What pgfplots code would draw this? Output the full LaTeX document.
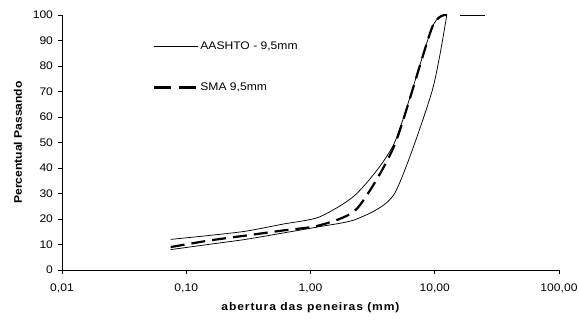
\documentclass[border=0pt]{standalone}
\usepackage{fontspec}
\setmainfont{Liberation Sans}[FakeStretch=1.1]
\usepackage{pgfplots}
\usepackage{pgfplotstable}
\pgfplotsset{compat=1.18}

% Grading limits (AASHTO, 9,5 mm) and the SMA 9,5 mm blend
\pgfplotstableread{
sieve  upper  lower  sma
0.075  12.0   8.0    9.0
0.15   13.5   10.0   11.5
0.3    15.2   12.0   13.5
0.6    18.0   14.5   15.5
1.18   20.8   17.0   17.5
2.36   30.0   20.0   24.0
4.75   50.0   30.0   49.0
9.5    95.0   70.0   95.0
12.5   100.0  100.0  100.0
}\grading

\begin{document}
\begin{tikzpicture}
\begin{axis}[
  scale only axis,
  width=497pt, height=255pt,
  xmode=log, xmin=0.01, xmax=100,
  ymin=0, ymax=100,
  axis x line*=bottom, axis y line*=left,
  axis line style={line width=0.9pt, black},
  xtick={0.01,0.1,1,10,100},
  xticklabels={{0,01},{0,10},{1,00},{10,00},{100,00}},
  xminorticks=false,
  ytick={0,10,...,100},
  tick align=outside,
  major tick length=4.5pt,
  tick style={line width=0.8pt, black},
  font=\fontsize{11}{13}\selectfont,
  /pgf/number format/assume math mode=true,
  xticklabel style={yshift=-6pt},
  yticklabel style={xshift=-1pt},
  xlabel={\addfontfeature{LetterSpace=8}abertura das peneiras (mm)},
  ylabel={Percentual Passando},
  xlabel style={font=\bfseries\fontsize{11}{13}\selectfont, at={(axis description cs:0.5,-0.149)}, anchor=center},
  ylabel style={font=\bfseries\fontsize{11}{13}\selectfont, at={(axis description cs:-0.0885,0.5)}, anchor=center},
  legend style={draw=none, fill=none, inner sep=0pt, at={(axis description cs:0.1825,0.904)}, anchor=north west, row sep=28pt, cells={anchor=west}, font=\fontsize{11}{13}\selectfont},
  legend cell align=left,
  legend image code/.code={\draw[#1] (0pt,0pt) -- (44pt,0pt);},
]
\addplot[black, line width=0.75pt, smooth, tension=0.4] table[x=sieve, y=upper] {\grading};
\addlegendentry{AASHTO - 9,5mm}
\addplot[black, line width=0.75pt, smooth, tension=0.4, forget plot] table[x=sieve, y=lower] {\grading};
\addplot[black, line width=0.75pt, forget plot] coordinates {(16,100) (25.5,100)};
\addplot[black, line width=2.2pt, dash pattern=on 14pt off 7pt, smooth, tension=0.4,
  legend image code/.code={\draw[black, line width=2.2pt, dash pattern=on 17pt off 8pt] (0pt,0pt) -- (42pt,0pt);}]
  table[x=sieve, y=sma] {\grading};
\addlegendentry{SMA 9,5mm}
\coordinate (O) at (rel axis cs:0,0);
\end{axis}
\pgfresetboundingbox
\path[use as bounding box] ([shift={(-62pt,-51pt)}]O) rectangle ([shift={(517pt,270pt)}]O);
\end{tikzpicture}
\end{document}
